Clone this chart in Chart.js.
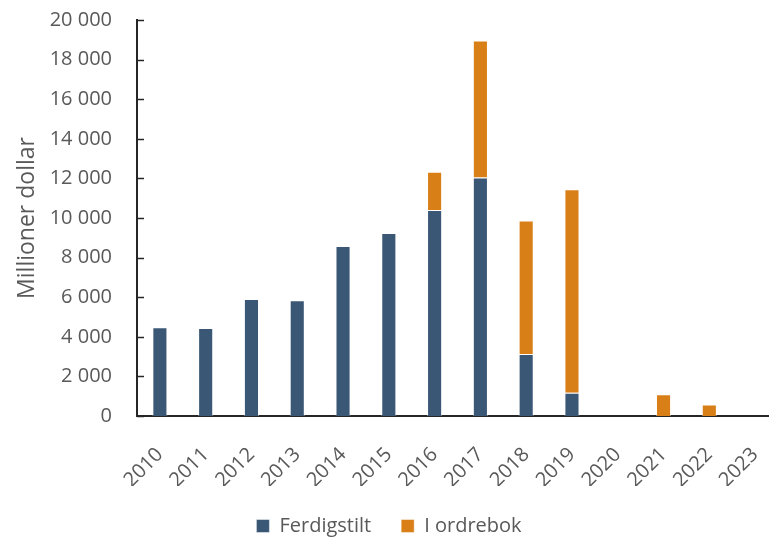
<!DOCTYPE html>
<html>
<head>
<meta charset="utf-8">
<script src="https://cdn.jsdelivr.net/npm/chart.js@4/dist/chart.umd.min.js"></script>
<style>
  html, body { margin: 0; padding: 0; overflow: hidden; background: #fff; }
  #wrap { width: 785px; height: 538px; }
</style>
</head>
<body>
<div id="wrap"><canvas id="myChart" width="785" height="538"></canvas></div>
<script>
// Data
var years = ["2010", "2011", "2012", "2013", "2014", "2015", "2016",
             "2017", "2018", "2019", "2020", "2021", "2022", "2023"];
var ferdigstilt = [4480, 4440, 5910, 5840, 8590, 9240, 10400,
                   12050, 3130, 1180, 0, 0, 0, 0];
var i_ordrebok = [0, 0, 0, 0, 0, 0, 1940,
                  6920, 6740, 10270, 0, 1100, 580, 0];
var y_ticks = [0, 2000, 4000, 6000, 8000, 10000, 12000, 14000, 16000, 18000, 20000];

var textColor = '#595959';
var axisColor = '#262626';

// thousands separated by a space, like the original
function fmt(v) {
    return String(v).replace(/\B(?=(\d{3})+(?!\d))/g, ' ');
}

// tick marks pointing into the plot on the y axis
var innerTicks = {
    id: 'innerTicks',
    afterDatasetsDraw(chart) {
        var y = chart.scales.y;
        var ctx = chart.ctx;
        ctx.save();
        ctx.strokeStyle = axisColor;
        ctx.lineWidth = 1.5;
        y_ticks.forEach((v) => {
            var py = Math.round(y.getPixelForValue(v)) + 0.5;
            ctx.beginPath();
            ctx.moveTo(y.right, py);
            ctx.lineTo(y.right + 7, py);
            ctx.stroke();
        });
        ctx.restore();
    }
};

var ctx = document.getElementById('myChart').getContext('2d');

var myChart = new Chart(ctx, {
    type: 'bar',
    data: {
        labels: years,
        datasets: [{
            label: 'Ferdigstilt',
            data: ferdigstilt,
            backgroundColor: '#3a5775',
            borderColor: 'rgba(255,255,255,0.45)',
            borderWidth: 1,
            barPercentage: 0.33,
            categoryPercentage: 1
        }, {
            label: 'I ordrebok',
            data: i_ordrebok,
            backgroundColor: '#d97f17',
            borderColor: 'rgba(255,255,255,0.45)',
            borderWidth: 1,
            barPercentage: 0.33,
            categoryPercentage: 1
        }]
    },
    options: {
        responsive: false,
        animation: false,
        layout: { padding: { top: 20, right: 7, left: 0, bottom: -8 } },
        font: { family: '"Open Sans", sans-serif' },
        plugins: {
            tooltip: { enabled: false },
            legend: {
                position: 'bottom',
                labels: {
                    color: textColor,
                    font: { size: 20, family: '"Open Sans", sans-serif' },
                    boxWidth: 13,
                    boxHeight: 13,
                    padding: 30
                }
            }
        },
        scales: {
            x: {
                stacked: true,
                grid: { display: false, drawTicks: false },
                border: { display: true, color: axisColor, width: 2 },
                ticks: {
                    color: textColor,
                    font: { size: 20, family: '"Open Sans", sans-serif' },
                    maxRotation: 45,
                    minRotation: 45,
                    padding: 27
                },
                afterFit(scale) {
                    scale.height = 130 - scale.chart.legend.height;
                    scale.paddingLeft = 0;
                    scale.paddingRight = 0;
                }
            },
            y: {
                stacked: true,
                min: 0,
                max: 20000,
                grid: { display: false, drawTicks: false },
                border: { display: true, color: axisColor, width: 2 },
                ticks: {
                    stepSize: 2000,
                    color: textColor,
                    font: { size: 20, family: '"Open Sans", sans-serif' },
                    padding: 25,
                    callback: (v) => fmt(v)
                },
                title: {
                    display: true,
                    text: 'Millioner dollar',
                    color: textColor,
                    font: { size: 23, family: '"Open Sans", sans-serif' },
                    padding: { top: 14, bottom: 0 }
                },
                afterFit(scale) {
                    scale.width = 137;
                    scale.paddingTop = 0;
                    scale.paddingBottom = 0;
                }
            }
        }
    },
    plugins: [innerTicks]
});
</script>
</body>
</html>
